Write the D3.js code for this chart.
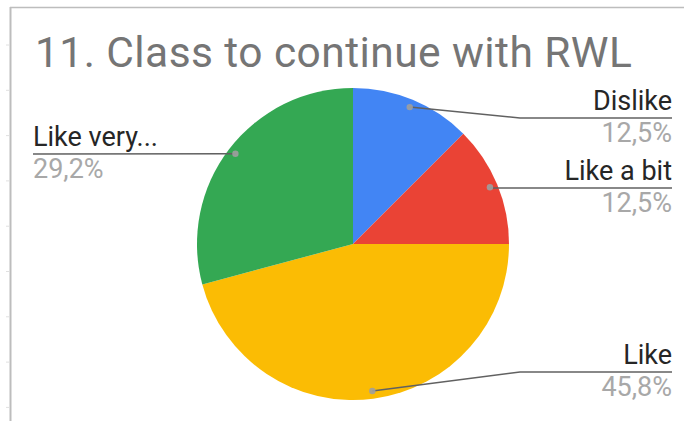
<!DOCTYPE html>
<html>
<head>
<meta charset="utf-8">
<script src="https://cdn.jsdelivr.net/npm/d3@7"></script>
<style>
  html, body { margin: 0; padding: 0; background: #fff; }
  svg { display: block; font-family: Roboto, "Noto Sans", Arial, sans-serif; }
</style>
</head>
<body>
<svg id="chart" width="684" height="421"></svg>
<script>
// Survey answers, in clockwise order from 12 o'clock
const categories = ["Dislike", "Like a bit", "Like", "Like very much"];
const shortLabels = ["Dislike", "Like a bit", "Like", "Like very..."];
const counts = [3, 3, 11, 7];
const colors = ["#4285f4", "#ea4335", "#fbbc04", "#34a853"];
const title = "11. Class to continue with RWL";

const W = 684, H = 421;
const cx = 353, cy = 244, radius = 156;

const svg = d3.select("#chart");

// frame lines of the sheet
svg.append("line").attr("x1", 10).attr("x2", W).attr("y1", 7.5).attr("y2", 7.5)
  .attr("stroke", "#bdbdbd").attr("stroke-width", 1.5);
svg.append("line").attr("x1", 10.5).attr("x2", 10.5).attr("y1", 7).attr("y2", H)
  .attr("stroke", "#bdbdbd").attr("stroke-width", 2);
d3.range(45, H, 45.3).forEach(y => {
  svg.append("line").attr("x1", 6).attr("x2", 9).attr("y1", y).attr("y2", y)
    .attr("stroke", "#e0e0e0").attr("stroke-width", 1);
});

// title, spread to its full width
const titleText = svg.append("text")
  .attr("x", 35).attr("y", 67)
  .attr("font-size", 42.5)
  .attr("fill", "#757575")
  .text(title);
const titleWidth = 597;
const measured = titleText.node().getComputedTextLength();
titleText.attr("letter-spacing", ((titleWidth - measured) / (title.length - 1)).toFixed(2));

const total = d3.sum(counts);
const data = categories.map((c, i) => ({ name: c, label: shortLabels[i], value: counts[i], color: colors[i] }));

const pie = d3.pie().value(d => d.value).sort(null);
const arcs = pie(data);
const arc = d3.arc().innerRadius(0).outerRadius(radius);

const g = svg.append("g").attr("transform", `translate(${cx},${cy})`);
g.selectAll("path.slice").data(arcs).enter().append("path")
  .attr("class", "slice")
  .attr("d", arc)
  .attr("fill", d => d.data.color);

// label placement: y of the underline and side of the chart
const labelLineY = [118, 188, 372, 154];
const labelSide = ["right", "right", "right", "left"];
const rightEdge = 672, leftEdge = 33, elbowX = 520;
const fmt = v => (v * 100).toFixed(1).replace(".", ",") + "%";

arcs.forEach((a, i) => {
  const mid = (a.startAngle + a.endAngle) / 2;
  const r = radius * 0.95;
  const px = cx + Math.sin(mid) * r;
  const py = cy - Math.cos(mid) * r;
  const ly = labelLineY[i];
  let pts;
  if (labelSide[i] === "right") {
    const ex = Math.abs(py - ly) < 2 ? px : elbowX;
    pts = [[px, py], [ex, ly], [rightEdge, ly]];
  } else {
    pts = [[px, py], [leftEdge, ly]];
  }
  svg.append("path")
    .attr("d", d3.line()(pts))
    .attr("fill", "none")
    .attr("stroke", "#616161")
    .attr("stroke-width", 1.5);
  svg.append("circle").attr("cx", px).attr("cy", py).attr("r", 3.2)
    .attr("fill", "#9e9e9e").attr("opacity", 0.9);

  const tx = labelSide[i] === "right" ? rightEdge : leftEdge;
  const anchor = labelSide[i] === "right" ? "end" : "start";
  svg.append("text")
    .attr("x", tx).attr("y", ly - 8)
    .attr("text-anchor", anchor)
    .attr("font-size", 27)
    .attr("fill", "#262626")
    .text(a.data.label);
  svg.append("text")
    .attr("x", tx).attr("y", ly + 24)
    .attr("text-anchor", anchor)
    .attr("font-size", 27)
    .attr("fill", "#a8a8a8")
    .text(fmt(a.data.value / total));
});
</script>
</body>
</html>
